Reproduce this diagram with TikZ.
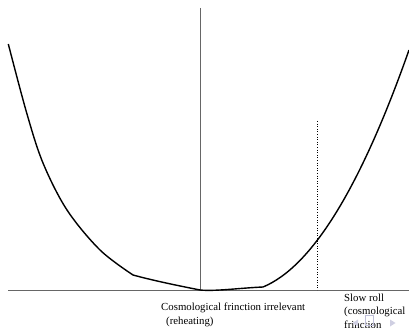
\documentclass[tikz,border=0pt]{standalone}
\usepackage{fontspec}
\setmainfont{Liberation Serif}
\begin{document}
\begin{tikzpicture}[x=1pt,y=-1pt,
  axis/.style={draw=black!60, line width=0.9pt},
  potential/.style={draw=black, line width=1.4pt, line join=round},
  lbl/.style={font=\fontsize{10.8}{13.8}\selectfont, align=left, inner sep=0pt, anchor=north west},
  nav/.style={fill=blue!25!gray!30, draw=none}]
\useasboundingbox (0,0) rectangle (409,328);
% axes
\coordinate (xl) at (8,290);
\coordinate (xr) at (409,290);
\coordinate (yt) at (200.7,8);
\coordinate (yb) at (200.7,290);
\draw[axis] (xl) -- (xr);
\draw[axis] (yt) -- (yb);
% dotted marker
\coordinate (dt) at (317,121);
\coordinate (db) at (317,290);
\draw[black, line width=0.6pt, dotted] (dt) -- (db);
% potential curve
\draw[potential] plot[smooth, tension=0.55] coordinates {(8.3,44) (26.7,113) (43,163) (67,210) (100,250) (133,275)}
  .. controls (155,281) and (180,286) .. (200,290)
  .. controls (215,291.5) and (240,288) .. (263,287)
  .. controls (311.7,266.8) and (360.3,188.3) .. (409,50);
% labels
\node[lbl] (lab1) at (161,303) {Cosmological frinction irrelevant\\\hspace{5pt}(reheating)};
\node[lbl] (lab2) at (344,293.5) {Slow roll\\(cosmological\\frinction};
% navigation symbols
\fill[nav] (358,319.5) -- (352.5,323) -- (358,326.5) -- cycle;
\draw[draw=blue!25!gray!40, line width=0.8pt] (365,315.5) rectangle (373,325);
\fill[nav] (390,319.5) -- (395.5,323) -- (390,326.5) -- cycle;
\end{tikzpicture}
\end{document}
